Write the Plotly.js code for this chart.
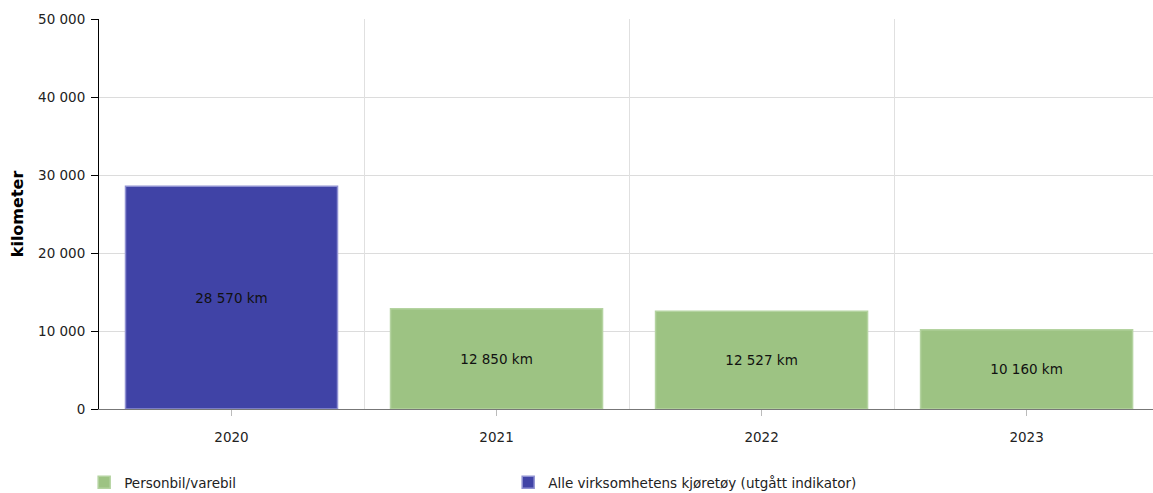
<!DOCTYPE html>
<html>
<head>
<meta charset="utf-8">
<script src="https://cdn.plot.ly/plotly-3.0.1.min.js"></script>
<style>html,body{margin:0;padding:0;background:#fff;}#chart{width:1153px;height:493px;}</style>
</head>
<body>
<div id="chart"></div>
<script>
var categories = ['2020', '2021', '2022', '2023'];
var personbilYears = ['2021', '2022', '2023'];
var personbilValues = [12850, 12527, 10160];
var alleYears = ['2020'];
var alleValues = [28570];
var seriesNames = ['Personbil/varebil', 'Alle virksomhetens kjøretøy (utgått indikator)'];
var yTickVals = [0, 10000, 20000, 30000, 40000, 50000];
var boundaryVals = [0.5, 1.5, 2.5];

var FONT = 'DejaVu Sans, Verdana, sans-serif';

var traces = [
  {
    type: 'bar', name: seriesNames[0], x: personbilYears, y: personbilValues,
    width: 0.8,
    marker: {color: '#9dc383', line: {color: '#b4d3a0', width: 1.5}},
    texttemplate: '%{y:,.0f} km', textposition: 'inside', insidetextanchor: 'middle',
    textfont: {color: '#111', size: 13.5, family: FONT},
    hoverinfo: 'none'
  },
  {
    type: 'bar', name: seriesNames[1], x: alleYears, y: alleValues,
    width: 0.8,
    marker: {color: '#4043a6', line: {color: '#8f91d2', width: 1.5}},
    texttemplate: '%{y:,.0f} km', textposition: 'inside', insidetextanchor: 'middle',
    textfont: {color: '#111', size: 13.5, family: FONT},
    hoverinfo: 'none'
  },
  {
    type: 'scatter', x: [0], y: [0], xaxis: 'x2', mode: 'none', showlegend: false, hoverinfo: 'none'
  }
];

var xr = [-0.5, 3.477];

var layout = {
  width: 1153, height: 493,
  margin: {l: 99, r: 0, t: 19, b: 84, autoexpand: false},
  paper_bgcolor: '#fff', plot_bgcolor: '#fff',
  font: {family: FONT, size: 13.5, color: '#222'},
  separators: ', ',
  barmode: 'overlay',
  showlegend: true,
  legend: {
    orientation: 'h', xref: 'container', x: 0.073, xanchor: 'left',
    yref: 'container', y: 0.0527, yanchor: 'top',
    entrywidth: 379, entrywidthmode: 'pixels',
    font: {family: FONT, size: 13.5, color: '#222'},
    traceorder: 'normal'
  },
  xaxis: {
    type: 'category', categoryarray: categories, categoryorder: 'array',
    range: xr, showgrid: false, zeroline: false,
    showline: true, linecolor: '#777', linewidth: 1,
    ticks: 'outside', ticklen: 6, tickcolor: '#bbb', tickwidth: 1,
    ticklabelstandoff: 10,
    tickfont: {family: FONT, size: 13.5, color: '#222'},
    fixedrange: true
  },
  xaxis2: {
    type: 'linear', overlaying: 'x', range: xr, showgrid: true,
    gridcolor: '#e0e0e0', gridwidth: 1, tickvals: boundaryVals,
    showticklabels: false, ticks: '', zeroline: false, showline: false
  },
  yaxis: {
    range: [0, 50000], tickvals: yTickVals, tickformat: ',.0f',
    showgrid: true, gridcolor: '#dcdcdc', gridwidth: 1,
    zeroline: false, showline: true, linecolor: '#000', linewidth: 1,
    ticks: 'outside', ticklen: 7, tickcolor: '#000',
    ticklabelstandoff: 3,
    tickfont: {family: FONT, size: 13.5, color: '#222'},
    title: {text: 'kilometer', font: {family: FONT, size: 16, color: '#000', weight: 'bold'}, standoff: 10},
    fixedrange: true
  }
};

Plotly.newPlot('chart', traces, layout, {displayModeBar: false, staticPlot: true});
</script>
</body>
</html>
